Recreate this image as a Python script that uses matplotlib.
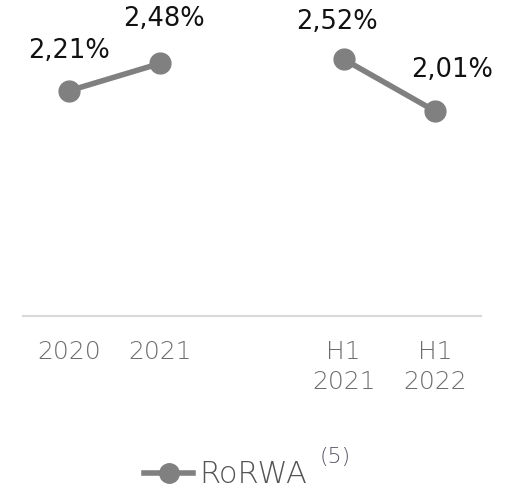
import matplotlib.pyplot as plt
from matplotlib.lines import Line2D

# data
periods = ["2020", "2021", "H1\n2021", "H1\n2022"]
positions = [0, 1, 3, 4]
rorwa = [2.21, 2.48, 2.52, 2.01]
value_labels = ["2,21%", "2,48%", "2,52%", "2,01%"]
label_dx = [0, 3, -7, 17]    # small nudges (px)
label_dy = [40, 44, 37, 41]

line_color = "#808080"
tick_font = {"family": "DejaVu Sans", "weight": "light"}

fig = plt.figure(figsize=(5.23, 4.91), dpi=100)
ax = fig.add_axes([0.044, 0.356, 0.876, 0.623])

# annual pair and half-year pair drawn as separate segments
ax.plot(positions[:2], rorwa[:2], color=line_color, lw=4, marker="o", ms=15)
ax.plot(positions[2:], rorwa[2:], color=line_color, lw=4, marker="o", ms=15)

for x, y, lab, dx, dy in zip(positions, rorwa, value_labels, label_dx, label_dy):
    ax.annotate(lab, (x, y), xytext=(dx * 0.72, dy * 0.72), textcoords="offset points",
                ha="center", va="center", fontsize=18.5, family="DejaVu Sans", color="#111111")

ax.set_xlim(-0.5, 4.5)
ax.set_ylim(0, 3.0)
ax.set_xticks(positions)
ax.set_xticklabels(periods, fontsize=18, color="#6d6d6d", linespacing=1.32, **tick_font)
ax.tick_params(axis="x", length=0, pad=17)
ax.set_yticks([])
for s in ["top", "left", "right"]:
    ax.spines[s].set_visible(False)
ax.spines["bottom"].set_color("#d9d9d9")
ax.spines["bottom"].set_linewidth(1.5)

# legend
handle = Line2D([], [], color=line_color, lw=4, marker="o", ms=14)
leg = fig.legend([handle], ["RoRWA"], loc="center", bbox_to_anchor=(0.432, 0.033),
                 frameon=False, handlelength=1.6, handletextpad=0.2,
                 prop={"size": 22, **tick_font})
for t in leg.get_texts():
    t.set_color("#555555")
fig.text(0.612, 0.069, "(5)", fontsize=16, color="#555566", ha="left", va="center", **tick_font)

fig.savefig("out.png", dpi=100)
